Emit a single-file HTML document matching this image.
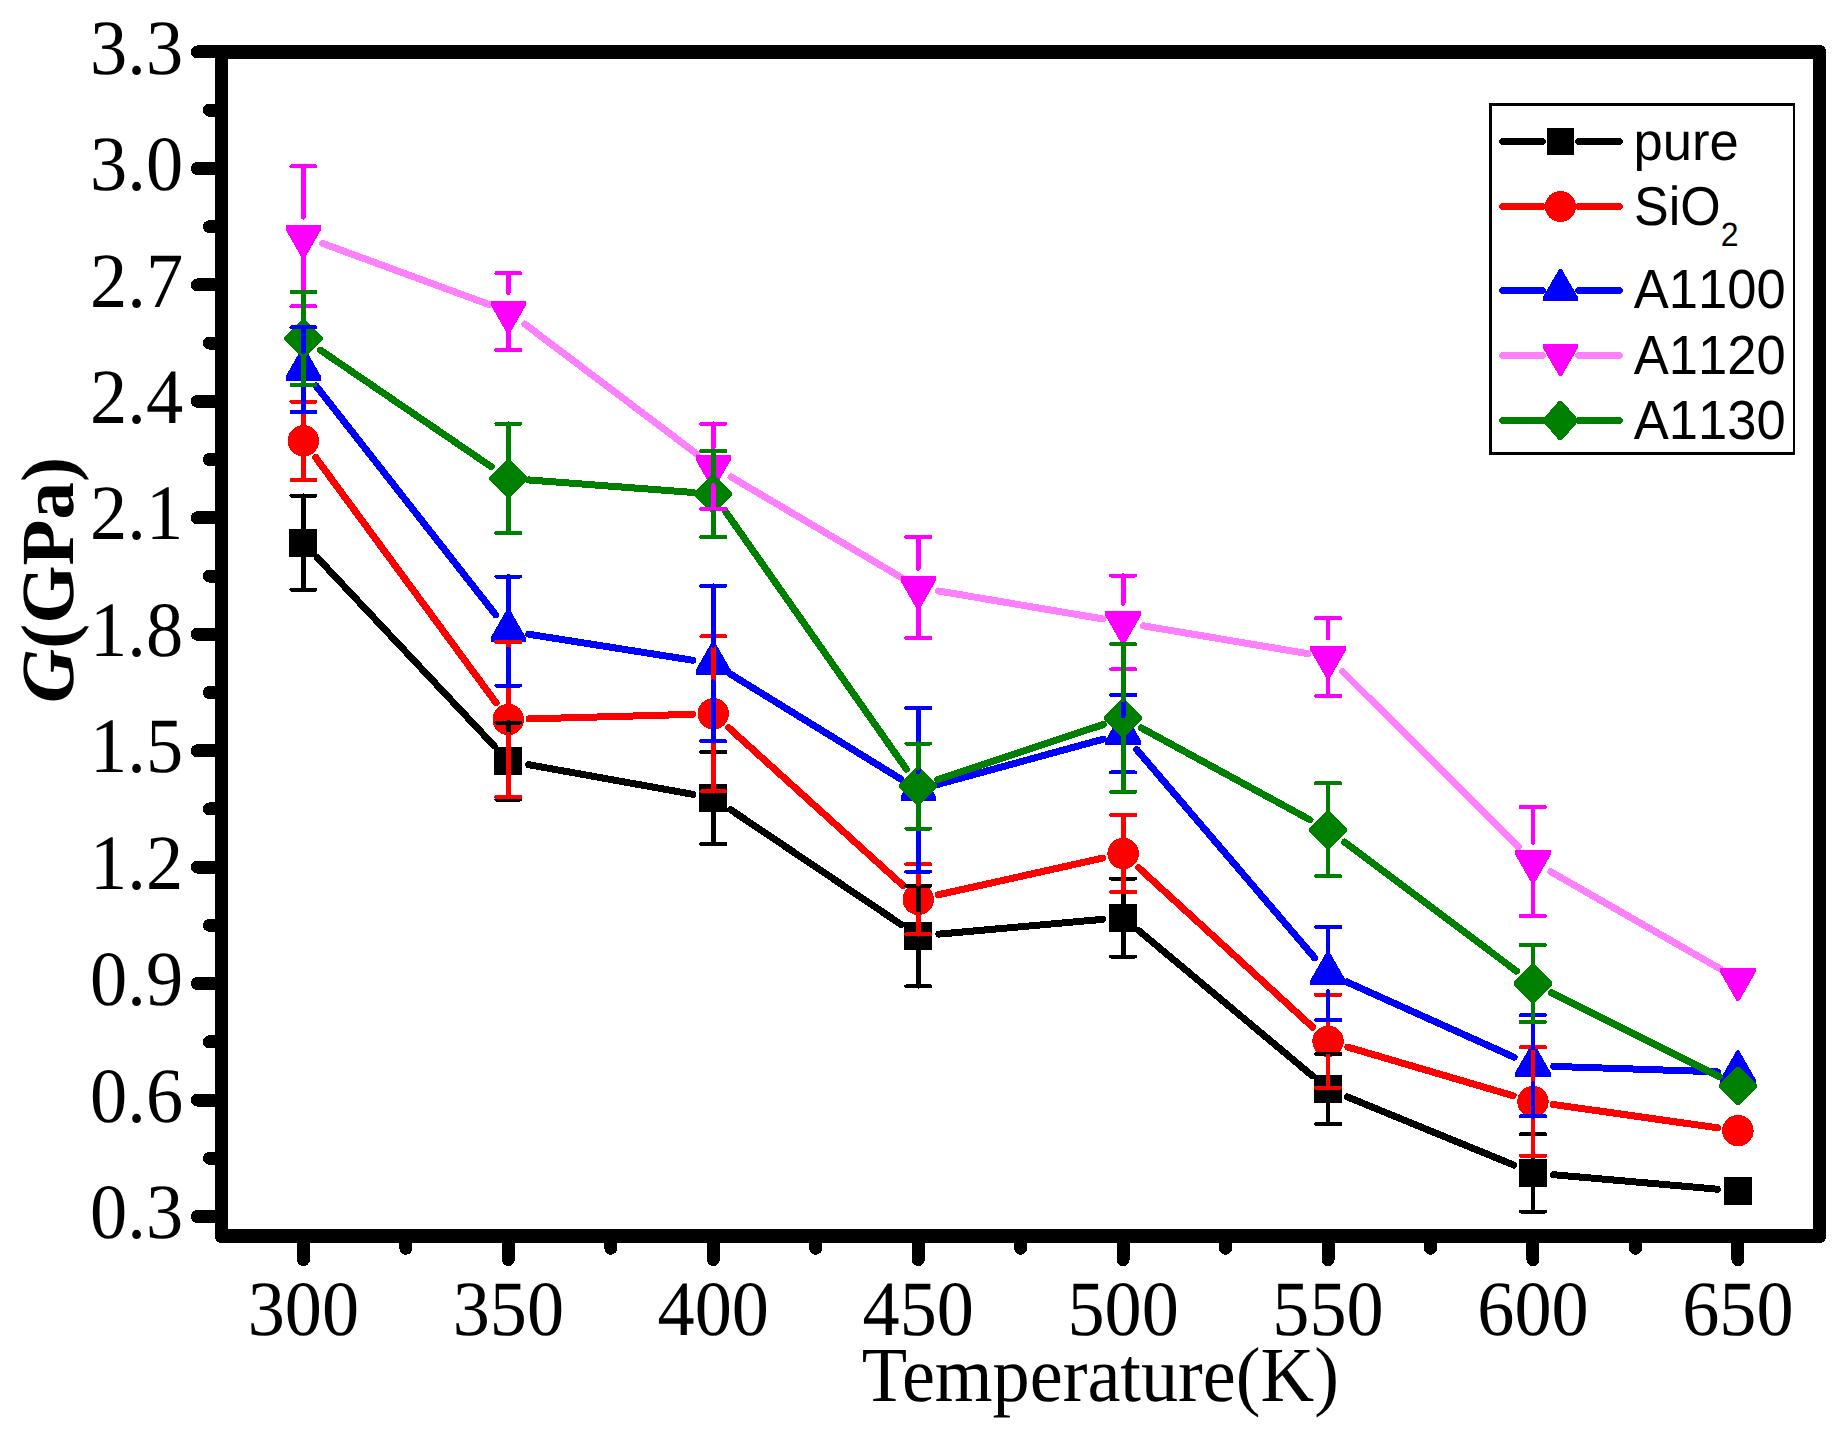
<!DOCTYPE html>
<html lang="en"><head><meta charset="utf-8"><title>G(GPa) vs Temperature(K)</title>
<style>html,body{margin:0;padding:0;background:#fff;}body{width:1840px;height:1434px;overflow:hidden;}svg{display:block;}</style>
</head><body>
<svg width="1840" height="1434" viewBox="0 0 1840 1434" shape-rendering="crispEdges" text-rendering="geometricPrecision">
<rect width="1840" height="1434" fill="#ffffff"/>
<g stroke="#000000" stroke-width="7.0" stroke-linecap="round" fill="none">
<line x1="317.57" y1="557.89" x2="494.16" y2="745.91"/>
<line x1="528.70" y1="764.68" x2="692.89" y2="794.32"/>
<line x1="730.43" y1="809.56" x2="901.02" y2="924.44"/>
<line x1="938.81" y1="934.14" x2="1102.50" y2="919.36"/>
<line x1="1138.99" y1="930.78" x2="1312.18" y2="1075.72"/>
<line x1="1347.21" y1="1096.84" x2="1513.82" y2="1165.06"/>
<line x1="1553.60" y1="1174.72" x2="1717.29" y2="1189.18"/>
</g>
<g>
<rect x="289.40" y="528.80" width="28" height="28" fill="#000000"/>
<rect x="494.33" y="747.00" width="28" height="28" fill="#000000"/>
<rect x="699.26" y="784.00" width="28" height="28" fill="#000000"/>
<rect x="904.19" y="922.00" width="28" height="28" fill="#000000"/>
<rect x="1109.12" y="903.50" width="28" height="28" fill="#000000"/>
<rect x="1314.05" y="1075.00" width="28" height="28" fill="#000000"/>
<rect x="1518.98" y="1158.90" width="28" height="28" fill="#000000"/>
<rect x="1723.91" y="1177.00" width="28" height="28" fill="#000000"/>
</g>
<g stroke="#ff0000" stroke-width="7.0" stroke-linecap="round" fill="none">
<line x1="315.66" y1="457.48" x2="496.07" y2="702.82"/>
<line x1="529.02" y1="718.92" x2="692.57" y2="714.33"/>
<line x1="728.60" y1="727.64" x2="902.85" y2="885.41"/>
<line x1="938.39" y1="894.79" x2="1102.92" y2="858.01"/>
<line x1="1138.38" y1="867.48" x2="1312.79" y2="1027.27"/>
<line x1="1347.91" y1="1047.10" x2="1513.12" y2="1095.75"/>
<line x1="1553.47" y1="1104.51" x2="1717.42" y2="1127.79"/>
</g>
<g>
<circle cx="303.40" cy="440.80" r="15.7" fill="#ff0000"/>
<circle cx="508.33" cy="719.50" r="15.7" fill="#ff0000"/>
<circle cx="713.26" cy="713.75" r="15.7" fill="#ff0000"/>
<circle cx="918.19" cy="899.30" r="15.7" fill="#ff0000"/>
<circle cx="1123.12" cy="853.50" r="15.7" fill="#ff0000"/>
<circle cx="1328.05" cy="1041.25" r="15.7" fill="#ff0000"/>
<circle cx="1532.98" cy="1101.60" r="15.7" fill="#ff0000"/>
<circle cx="1737.91" cy="1130.70" r="15.7" fill="#ff0000"/>
</g>
<g stroke="#0000ff" stroke-width="7.0" stroke-linecap="round" fill="none">
<line x1="316.17" y1="385.99" x2="495.56" y2="614.71"/>
<line x1="528.77" y1="634.24" x2="692.82" y2="660.26"/>
<line x1="730.88" y1="674.36" x2="900.57" y2="778.94"/>
<line x1="938.16" y1="784.33" x2="1103.15" y2="739.17"/>
<line x1="1136.57" y1="749.44" x2="1314.60" y2="957.76"/>
<line x1="1346.93" y1="981.99" x2="1514.10" y2="1057.21"/>
<line x1="1553.67" y1="1066.39" x2="1717.22" y2="1071.81"/>
</g>
<g>
<polygon points="302.20,347.55 304.60,347.55 321.05,376.30 321.05,380.80 285.75,380.80 285.75,376.30" fill="#0000ff"/>
<polygon points="507.13,608.85 509.53,608.85 525.98,637.60 525.98,642.10 490.68,642.10 490.68,637.60" fill="#0000ff"/>
<polygon points="712.06,641.35 714.46,641.35 730.91,670.10 730.91,674.60 695.61,674.60 695.61,670.10" fill="#0000ff"/>
<polygon points="916.99,767.65 919.39,767.65 935.84,796.40 935.84,800.90 900.54,800.90 900.54,796.40" fill="#0000ff"/>
<polygon points="1121.92,711.55 1124.32,711.55 1140.77,740.30 1140.77,744.80 1105.47,744.80 1105.47,740.30" fill="#0000ff"/>
<polygon points="1326.85,951.35 1329.25,951.35 1345.70,980.10 1345.70,984.60 1310.40,984.60 1310.40,980.10" fill="#0000ff"/>
<polygon points="1531.78,1043.55 1534.18,1043.55 1550.63,1072.30 1550.63,1076.80 1515.33,1076.80 1515.33,1072.30" fill="#0000ff"/>
<polygon points="1736.71,1050.35 1739.11,1050.35 1755.56,1079.10 1755.56,1083.60 1720.26,1083.60 1720.26,1079.10" fill="#0000ff"/>
</g>
<g stroke="#ff80ff" stroke-width="7.0" stroke-linecap="round" fill="none">
<line x1="322.83" y1="243.44" x2="488.90" y2="304.46"/>
<line x1="524.85" y1="324.08" x2="696.74" y2="453.92"/>
<line x1="731.08" y1="476.93" x2="900.37" y2="576.97"/>
<line x1="938.60" y1="590.98" x2="1102.71" y2="618.92"/>
<line x1="1143.53" y1="625.86" x2="1307.64" y2="653.64"/>
<line x1="1342.71" y1="671.72" x2="1518.32" y2="846.88"/>
<line x1="1550.94" y1="871.80" x2="1719.95" y2="968.70"/>
</g>
<g>
<polygon points="302.20,258.45 304.60,258.45 321.05,229.70 321.05,225.20 285.75,225.20 285.75,229.70" fill="#ff00ff"/>
<polygon points="507.13,333.75 509.53,333.75 525.98,305.00 525.98,300.50 490.68,300.50 490.68,305.00" fill="#ff00ff"/>
<polygon points="712.06,488.55 714.46,488.55 730.91,459.80 730.91,455.30 695.61,455.30 695.61,459.80" fill="#ff00ff"/>
<polygon points="916.99,609.65 919.39,609.65 935.84,580.90 935.84,576.40 900.54,576.40 900.54,580.90" fill="#ff00ff"/>
<polygon points="1121.92,644.55 1124.32,644.55 1140.77,615.80 1140.77,611.30 1105.47,611.30 1105.47,615.80" fill="#ff00ff"/>
<polygon points="1326.85,679.25 1329.25,679.25 1345.70,650.50 1345.70,646.00 1310.40,646.00 1310.40,650.50" fill="#ff00ff"/>
<polygon points="1531.78,883.65 1534.18,883.65 1550.63,854.90 1550.63,850.40 1515.33,850.40 1515.33,854.90" fill="#ff00ff"/>
<polygon points="1736.71,1001.15 1739.11,1001.15 1755.56,972.40 1755.56,967.90 1720.26,967.90 1720.26,972.40" fill="#ff00ff"/>
</g>
<g stroke="#008000" stroke-width="7.0" stroke-linecap="round" fill="none">
<line x1="320.50" y1="350.17" x2="491.23" y2="466.73"/>
<line x1="528.97" y1="479.97" x2="692.62" y2="492.43"/>
<line x1="725.15" y1="510.94" x2="906.30" y2="769.06"/>
<line x1="937.84" y1="779.48" x2="1103.47" y2="724.52"/>
<line x1="1141.30" y1="727.91" x2="1309.87" y2="819.79"/>
<line x1="1344.61" y1="842.13" x2="1516.42" y2="971.07"/>
<line x1="1551.50" y1="992.75" x2="1719.39" y2="1076.55"/>
</g>
<g>
<polygon points="301.90,319.40 304.90,319.40 322.50,337.00 322.50,340.00 304.90,357.60 301.90,357.60 284.30,340.00 284.30,337.00" fill="#008000"/>
<polygon points="506.83,459.30 509.83,459.30 527.43,476.90 527.43,479.90 509.83,497.50 506.83,497.50 489.23,479.90 489.23,476.90" fill="#008000"/>
<polygon points="711.76,474.90 714.76,474.90 732.36,492.50 732.36,495.50 714.76,513.10 711.76,513.10 694.16,495.50 694.16,492.50" fill="#008000"/>
<polygon points="916.69,766.90 919.69,766.90 937.29,784.50 937.29,787.50 919.69,805.10 916.69,805.10 899.09,787.50 899.09,784.50" fill="#008000"/>
<polygon points="1121.62,698.90 1124.62,698.90 1142.22,716.50 1142.22,719.50 1124.62,737.10 1121.62,737.10 1104.02,719.50 1104.02,716.50" fill="#008000"/>
<polygon points="1326.55,810.60 1329.55,810.60 1347.15,828.20 1347.15,831.20 1329.55,848.80 1326.55,848.80 1308.95,831.20 1308.95,828.20" fill="#008000"/>
<polygon points="1531.48,964.40 1534.48,964.40 1552.08,982.00 1552.08,985.00 1534.48,1002.60 1531.48,1002.60 1513.88,985.00 1513.88,982.00" fill="#008000"/>
<polygon points="1736.41,1066.70 1739.41,1066.70 1757.01,1084.30 1757.01,1087.30 1739.41,1104.90 1736.41,1104.90 1718.81,1087.30 1718.81,1084.30" fill="#008000"/>
</g>
<g stroke="#000000" stroke-width="4.8" stroke-linecap="round" fill="none">
<line x1="303.40" y1="495.80" x2="303.40" y2="529.80"/>
<line x1="303.40" y1="555.80" x2="303.40" y2="589.80"/>
<line x1="291.40" y1="495.80" x2="315.40" y2="495.80" stroke-width="4"/>
<line x1="291.40" y1="589.80" x2="315.40" y2="589.80" stroke-width="4"/>
<line x1="508.33" y1="722.50" x2="508.33" y2="748.00"/>
<line x1="508.33" y1="774.00" x2="508.33" y2="799.50"/>
<line x1="496.33" y1="722.50" x2="520.33" y2="722.50" stroke-width="4"/>
<line x1="496.33" y1="799.50" x2="520.33" y2="799.50" stroke-width="4"/>
<line x1="713.26" y1="752.00" x2="713.26" y2="785.00"/>
<line x1="713.26" y1="811.00" x2="713.26" y2="844.00"/>
<line x1="701.26" y1="752.00" x2="725.26" y2="752.00" stroke-width="4"/>
<line x1="701.26" y1="844.00" x2="725.26" y2="844.00" stroke-width="4"/>
<line x1="918.19" y1="885.70" x2="918.19" y2="923.00"/>
<line x1="918.19" y1="949.00" x2="918.19" y2="986.30"/>
<line x1="906.19" y1="885.70" x2="930.19" y2="885.70" stroke-width="4"/>
<line x1="906.19" y1="986.30" x2="930.19" y2="986.30" stroke-width="4"/>
<line x1="1123.12" y1="878.50" x2="1123.12" y2="904.50"/>
<line x1="1123.12" y1="930.50" x2="1123.12" y2="956.50"/>
<line x1="1111.12" y1="878.50" x2="1135.12" y2="878.50" stroke-width="4"/>
<line x1="1111.12" y1="956.50" x2="1135.12" y2="956.50" stroke-width="4"/>
<line x1="1328.05" y1="1054.00" x2="1328.05" y2="1076.00"/>
<line x1="1328.05" y1="1102.00" x2="1328.05" y2="1124.00"/>
<line x1="1316.05" y1="1054.00" x2="1340.05" y2="1054.00" stroke-width="4"/>
<line x1="1316.05" y1="1124.00" x2="1340.05" y2="1124.00" stroke-width="4"/>
<line x1="1532.98" y1="1134.20" x2="1532.98" y2="1159.90"/>
<line x1="1532.98" y1="1185.90" x2="1532.98" y2="1211.60"/>
<line x1="1520.98" y1="1134.20" x2="1544.98" y2="1134.20" stroke-width="4"/>
<line x1="1520.98" y1="1211.60" x2="1544.98" y2="1211.60" stroke-width="4"/>
</g>
<g stroke="#ff0000" stroke-width="4.8" stroke-linecap="round" fill="none">
<line x1="303.40" y1="401.60" x2="303.40" y2="425.80"/>
<line x1="303.40" y1="455.80" x2="303.40" y2="480.00"/>
<line x1="291.40" y1="401.60" x2="315.40" y2="401.60" stroke-width="4"/>
<line x1="291.40" y1="480.00" x2="315.40" y2="480.00" stroke-width="4"/>
<line x1="508.33" y1="642.00" x2="508.33" y2="704.50"/>
<line x1="508.33" y1="734.50" x2="508.33" y2="797.00"/>
<line x1="496.33" y1="642.00" x2="520.33" y2="642.00" stroke-width="4"/>
<line x1="496.33" y1="797.00" x2="520.33" y2="797.00" stroke-width="4"/>
<line x1="713.26" y1="636.25" x2="713.26" y2="698.75"/>
<line x1="713.26" y1="728.75" x2="713.26" y2="791.25"/>
<line x1="701.26" y1="636.25" x2="725.26" y2="636.25" stroke-width="4"/>
<line x1="701.26" y1="791.25" x2="725.26" y2="791.25" stroke-width="4"/>
<line x1="918.19" y1="864.30" x2="918.19" y2="884.30"/>
<line x1="918.19" y1="914.30" x2="918.19" y2="934.30"/>
<line x1="906.19" y1="864.30" x2="930.19" y2="864.30" stroke-width="4"/>
<line x1="906.19" y1="934.30" x2="930.19" y2="934.30" stroke-width="4"/>
<line x1="1123.12" y1="815.00" x2="1123.12" y2="838.50"/>
<line x1="1123.12" y1="868.50" x2="1123.12" y2="892.00"/>
<line x1="1111.12" y1="815.00" x2="1135.12" y2="815.00" stroke-width="4"/>
<line x1="1111.12" y1="892.00" x2="1135.12" y2="892.00" stroke-width="4"/>
<line x1="1328.05" y1="994.75" x2="1328.05" y2="1026.25"/>
<line x1="1328.05" y1="1056.25" x2="1328.05" y2="1087.75"/>
<line x1="1316.05" y1="994.75" x2="1340.05" y2="994.75" stroke-width="4"/>
<line x1="1316.05" y1="1087.75" x2="1340.05" y2="1087.75" stroke-width="4"/>
<line x1="1532.98" y1="1047.30" x2="1532.98" y2="1086.60"/>
<line x1="1532.98" y1="1116.60" x2="1532.98" y2="1155.90"/>
<line x1="1520.98" y1="1047.30" x2="1544.98" y2="1047.30" stroke-width="4"/>
<line x1="1520.98" y1="1155.90" x2="1544.98" y2="1155.90" stroke-width="4"/>
</g>
<g stroke="#0000ff" stroke-width="4.8" stroke-linecap="round" fill="none">
<line x1="303.40" y1="327.40" x2="303.40" y2="351.70"/>
<line x1="303.40" y1="387.70" x2="303.40" y2="412.00"/>
<line x1="291.40" y1="327.40" x2="315.40" y2="327.40" stroke-width="4"/>
<line x1="291.40" y1="412.00" x2="315.40" y2="412.00" stroke-width="4"/>
<line x1="508.33" y1="576.50" x2="508.33" y2="613.00"/>
<line x1="508.33" y1="649.00" x2="508.33" y2="685.50"/>
<line x1="496.33" y1="576.50" x2="520.33" y2="576.50" stroke-width="4"/>
<line x1="496.33" y1="685.50" x2="520.33" y2="685.50" stroke-width="4"/>
<line x1="713.26" y1="585.80" x2="713.26" y2="645.50"/>
<line x1="713.26" y1="681.50" x2="713.26" y2="741.20"/>
<line x1="701.26" y1="585.80" x2="725.26" y2="585.80" stroke-width="4"/>
<line x1="701.26" y1="741.20" x2="725.26" y2="741.20" stroke-width="4"/>
<line x1="918.19" y1="708.00" x2="918.19" y2="771.80"/>
<line x1="918.19" y1="807.80" x2="918.19" y2="871.60"/>
<line x1="906.19" y1="708.00" x2="930.19" y2="708.00" stroke-width="4"/>
<line x1="906.19" y1="871.60" x2="930.19" y2="871.60" stroke-width="4"/>
<line x1="1123.12" y1="695.00" x2="1123.12" y2="715.70"/>
<line x1="1123.12" y1="751.70" x2="1123.12" y2="772.40"/>
<line x1="1111.12" y1="695.00" x2="1135.12" y2="695.00" stroke-width="4"/>
<line x1="1111.12" y1="772.40" x2="1135.12" y2="772.40" stroke-width="4"/>
<line x1="1328.05" y1="927.00" x2="1328.05" y2="955.50"/>
<line x1="1328.05" y1="991.50" x2="1328.05" y2="1020.00"/>
<line x1="1316.05" y1="927.00" x2="1340.05" y2="927.00" stroke-width="4"/>
<line x1="1316.05" y1="1020.00" x2="1340.05" y2="1020.00" stroke-width="4"/>
<line x1="1532.98" y1="1015.10" x2="1532.98" y2="1047.70"/>
<line x1="1532.98" y1="1083.70" x2="1532.98" y2="1116.30"/>
<line x1="1520.98" y1="1015.10" x2="1544.98" y2="1015.10" stroke-width="4"/>
<line x1="1520.98" y1="1116.30" x2="1544.98" y2="1116.30" stroke-width="4"/>
</g>
<g stroke="#ff00ff" stroke-width="4.8" stroke-linecap="round" fill="none">
<line x1="303.40" y1="166.30" x2="303.40" y2="217.30"/>
<line x1="303.40" y1="255.30" x2="303.40" y2="306.30"/>
<line x1="291.40" y1="166.30" x2="315.40" y2="166.30" stroke-width="4"/>
<line x1="291.40" y1="306.30" x2="315.40" y2="306.30" stroke-width="4"/>
<line x1="508.33" y1="273.20" x2="508.33" y2="292.60"/>
<line x1="508.33" y1="330.60" x2="508.33" y2="350.00"/>
<line x1="496.33" y1="273.20" x2="520.33" y2="273.20" stroke-width="4"/>
<line x1="496.33" y1="350.00" x2="520.33" y2="350.00" stroke-width="4"/>
<line x1="713.26" y1="423.80" x2="713.26" y2="447.40"/>
<line x1="713.26" y1="485.40" x2="713.26" y2="509.00"/>
<line x1="701.26" y1="423.80" x2="725.26" y2="423.80" stroke-width="4"/>
<line x1="701.26" y1="509.00" x2="725.26" y2="509.00" stroke-width="4"/>
<line x1="918.19" y1="537.00" x2="918.19" y2="568.50"/>
<line x1="918.19" y1="606.50" x2="918.19" y2="638.00"/>
<line x1="906.19" y1="537.00" x2="930.19" y2="537.00" stroke-width="4"/>
<line x1="906.19" y1="638.00" x2="930.19" y2="638.00" stroke-width="4"/>
<line x1="1123.12" y1="575.50" x2="1123.12" y2="603.40"/>
<line x1="1123.12" y1="641.40" x2="1123.12" y2="669.30"/>
<line x1="1111.12" y1="575.50" x2="1135.12" y2="575.50" stroke-width="4"/>
<line x1="1111.12" y1="669.30" x2="1135.12" y2="669.30" stroke-width="4"/>
<line x1="1328.05" y1="618.20" x2="1328.05" y2="638.10"/>
<line x1="1328.05" y1="676.10" x2="1328.05" y2="696.00"/>
<line x1="1316.05" y1="618.20" x2="1340.05" y2="618.20" stroke-width="4"/>
<line x1="1316.05" y1="696.00" x2="1340.05" y2="696.00" stroke-width="4"/>
<line x1="1532.98" y1="807.00" x2="1532.98" y2="842.50"/>
<line x1="1532.98" y1="880.50" x2="1532.98" y2="916.00"/>
<line x1="1520.98" y1="807.00" x2="1544.98" y2="807.00" stroke-width="4"/>
<line x1="1520.98" y1="916.00" x2="1544.98" y2="916.00" stroke-width="4"/>
</g>
<g stroke="#008000" stroke-width="4.8" stroke-linecap="round" fill="none">
<line x1="303.40" y1="292.00" x2="303.40" y2="320.50"/>
<line x1="303.40" y1="356.50" x2="303.40" y2="385.00"/>
<line x1="291.40" y1="292.00" x2="315.40" y2="292.00" stroke-width="4"/>
<line x1="291.40" y1="385.00" x2="315.40" y2="385.00" stroke-width="4"/>
<line x1="508.33" y1="423.80" x2="508.33" y2="460.40"/>
<line x1="508.33" y1="496.40" x2="508.33" y2="533.00"/>
<line x1="496.33" y1="423.80" x2="520.33" y2="423.80" stroke-width="4"/>
<line x1="496.33" y1="533.00" x2="520.33" y2="533.00" stroke-width="4"/>
<line x1="713.26" y1="451.00" x2="713.26" y2="476.00"/>
<line x1="713.26" y1="512.00" x2="713.26" y2="537.00"/>
<line x1="701.26" y1="451.00" x2="725.26" y2="451.00" stroke-width="4"/>
<line x1="701.26" y1="537.00" x2="725.26" y2="537.00" stroke-width="4"/>
<line x1="918.19" y1="743.50" x2="918.19" y2="768.00"/>
<line x1="918.19" y1="804.00" x2="918.19" y2="828.50"/>
<line x1="906.19" y1="743.50" x2="930.19" y2="743.50" stroke-width="4"/>
<line x1="906.19" y1="828.50" x2="930.19" y2="828.50" stroke-width="4"/>
<line x1="1123.12" y1="644.20" x2="1123.12" y2="700.00"/>
<line x1="1123.12" y1="736.00" x2="1123.12" y2="791.80"/>
<line x1="1111.12" y1="644.20" x2="1135.12" y2="644.20" stroke-width="4"/>
<line x1="1111.12" y1="791.80" x2="1135.12" y2="791.80" stroke-width="4"/>
<line x1="1328.05" y1="783.30" x2="1328.05" y2="811.70"/>
<line x1="1328.05" y1="847.70" x2="1328.05" y2="876.10"/>
<line x1="1316.05" y1="783.30" x2="1340.05" y2="783.30" stroke-width="4"/>
<line x1="1316.05" y1="876.10" x2="1340.05" y2="876.10" stroke-width="4"/>
<line x1="1532.98" y1="945.00" x2="1532.98" y2="965.50"/>
<line x1="1532.98" y1="1001.50" x2="1532.98" y2="1022.00"/>
<line x1="1520.98" y1="945.00" x2="1544.98" y2="945.00" stroke-width="4"/>
<line x1="1520.98" y1="1022.00" x2="1544.98" y2="1022.00" stroke-width="4"/>
</g>
<g stroke="#000" stroke-width="13" stroke-linecap="round" fill="none">
<line x1="221.5" y1="52" x2="221.5" y2="1236"/>
<line x1="1819.5" y1="52" x2="1819.5" y2="1236"/>
<line x1="221.5" y1="52" x2="1819.5" y2="52" stroke-width="14"/>
<line x1="221.5" y1="1236" x2="1819.5" y2="1236" stroke-width="14"/>
<line x1="197.3" y1="1216.50" x2="221.5" y2="1216.50"/>
<line x1="209.4" y1="1158.27" x2="221.5" y2="1158.27"/>
<line x1="197.3" y1="1100.05" x2="221.5" y2="1100.05"/>
<line x1="209.4" y1="1041.82" x2="221.5" y2="1041.82"/>
<line x1="197.3" y1="983.60" x2="221.5" y2="983.60"/>
<line x1="209.4" y1="925.37" x2="221.5" y2="925.37"/>
<line x1="197.3" y1="867.15" x2="221.5" y2="867.15"/>
<line x1="209.4" y1="808.92" x2="221.5" y2="808.92"/>
<line x1="197.3" y1="750.70" x2="221.5" y2="750.70"/>
<line x1="209.4" y1="692.47" x2="221.5" y2="692.47"/>
<line x1="197.3" y1="634.25" x2="221.5" y2="634.25"/>
<line x1="209.4" y1="576.02" x2="221.5" y2="576.02"/>
<line x1="197.3" y1="517.79" x2="221.5" y2="517.79"/>
<line x1="209.4" y1="459.57" x2="221.5" y2="459.57"/>
<line x1="197.3" y1="401.34" x2="221.5" y2="401.34"/>
<line x1="209.4" y1="343.12" x2="221.5" y2="343.12"/>
<line x1="197.3" y1="284.89" x2="221.5" y2="284.89"/>
<line x1="209.4" y1="226.67" x2="221.5" y2="226.67"/>
<line x1="197.3" y1="168.44" x2="221.5" y2="168.44"/>
<line x1="209.4" y1="110.22" x2="221.5" y2="110.22"/>
<line x1="197.3" y1="51.99" x2="221.5" y2="51.99"/>
<line x1="303.40" y1="1236" x2="303.40" y2="1259.6"/>
<line x1="405.87" y1="1236" x2="405.87" y2="1248.3"/>
<line x1="508.33" y1="1236" x2="508.33" y2="1259.6"/>
<line x1="610.79" y1="1236" x2="610.79" y2="1248.3"/>
<line x1="713.26" y1="1236" x2="713.26" y2="1259.6"/>
<line x1="815.73" y1="1236" x2="815.73" y2="1248.3"/>
<line x1="918.19" y1="1236" x2="918.19" y2="1259.6"/>
<line x1="1020.65" y1="1236" x2="1020.65" y2="1248.3"/>
<line x1="1123.12" y1="1236" x2="1123.12" y2="1259.6"/>
<line x1="1225.58" y1="1236" x2="1225.58" y2="1248.3"/>
<line x1="1328.05" y1="1236" x2="1328.05" y2="1259.6"/>
<line x1="1430.52" y1="1236" x2="1430.52" y2="1248.3"/>
<line x1="1532.98" y1="1236" x2="1532.98" y2="1259.6"/>
<line x1="1635.44" y1="1236" x2="1635.44" y2="1248.3"/>
<line x1="1737.91" y1="1236" x2="1737.91" y2="1259.6"/>
</g>
<g font-family="'Liberation Serif', 'Times New Roman', serif" font-size="75" fill="#000">
<text transform="translate(183.1,1238.20) scale(0.992,1.045)" text-anchor="end">0.3</text>
<text transform="translate(183.1,1121.75) scale(0.992,1.045)" text-anchor="end">0.6</text>
<text transform="translate(183.1,1005.30) scale(0.992,1.045)" text-anchor="end">0.9</text>
<text transform="translate(183.1,888.85) scale(0.992,1.045)" text-anchor="end">1.2</text>
<text transform="translate(183.1,772.40) scale(0.992,1.045)" text-anchor="end">1.5</text>
<text transform="translate(183.1,655.95) scale(0.992,1.045)" text-anchor="end">1.8</text>
<text transform="translate(183.1,539.49) scale(0.992,1.045)" text-anchor="end">2.1</text>
<text transform="translate(183.1,423.04) scale(0.992,1.045)" text-anchor="end">2.4</text>
<text transform="translate(183.1,306.59) scale(0.992,1.045)" text-anchor="end">2.7</text>
<text transform="translate(183.1,190.14) scale(0.992,1.045)" text-anchor="end">3.0</text>
<text transform="translate(183.1,73.69) scale(0.992,1.045)" text-anchor="end">3.3</text>
<text transform="translate(303.40,1335.2) scale(0.99,1.045)" text-anchor="middle">300</text>
<text transform="translate(508.33,1335.2) scale(0.99,1.045)" text-anchor="middle">350</text>
<text transform="translate(713.26,1335.2) scale(0.99,1.045)" text-anchor="middle">400</text>
<text transform="translate(918.19,1335.2) scale(0.99,1.045)" text-anchor="middle">450</text>
<text transform="translate(1123.12,1335.2) scale(0.99,1.045)" text-anchor="middle">500</text>
<text transform="translate(1328.05,1335.2) scale(0.99,1.045)" text-anchor="middle">550</text>
<text transform="translate(1532.98,1335.2) scale(0.99,1.045)" text-anchor="middle">600</text>
<text transform="translate(1737.91,1335.2) scale(0.99,1.045)" text-anchor="middle">650</text>
<text transform="translate(1100.3,1401.2) scale(0.99,1.04)" text-anchor="middle">Temperature(K)</text>
<text transform="translate(72.5,580) rotate(-90)" text-anchor="middle" font-weight="bold"><tspan font-style="italic">G</tspan>(GPa)</text>
</g>
<rect x="1489" y="103" width="306" height="352" fill="#000"/><rect x="1492" y="106" width="301" height="346" fill="#fff"/>
<g stroke="#000000" stroke-width="7.0" stroke-linecap="round"><line x1="1502.6" y1="141.5" x2="1542.2" y2="141.5"/><line x1="1578.8000000000002" y1="141.5" x2="1619.2" y2="141.5"/></g>
<rect x="1546.90" y="128.00" width="27" height="27" fill="#000000"/>
<text transform="translate(1633.5,160) scale(1.012,1.03)" font-family="'Liberation Sans', Arial, sans-serif" font-size="52" fill="#000" style="font-kerning:none">pure</text>
<g stroke="#ff0000" stroke-width="7.0" stroke-linecap="round"><line x1="1502.6" y1="206.5" x2="1542.2" y2="206.5"/><line x1="1578.8000000000002" y1="206.5" x2="1619.2" y2="206.5"/></g>
<circle cx="1560.40" cy="206.50" r="15.5" fill="#ff0000"/>
<text transform="translate(1634,225) scale(1.0,1.055)" font-family="'Liberation Sans', Arial, sans-serif" font-size="52" fill="#000" style="font-kerning:none">SiO<tspan font-size="32" dy="20">2</tspan></text>
<g stroke="#0000ff" stroke-width="7.0" stroke-linecap="round"><line x1="1502.6" y1="290.5" x2="1542.2" y2="290.5"/><line x1="1578.8000000000002" y1="290.5" x2="1619.2" y2="290.5"/></g>
<polygon points="1559.20,268.90 1561.60,268.90 1578.05,297.20 1578.05,301.00 1542.75,301.00 1542.75,297.20" fill="#0000ff"/>
<text transform="translate(1633.8,308.0) scale(1.01,1.06)" font-family="'Liberation Sans', Arial, sans-serif" font-size="52" fill="#000" style="font-kerning:none">A1100</text>
<g stroke="#ff80ff" stroke-width="7.0" stroke-linecap="round"><line x1="1502.6" y1="355.5" x2="1542.2" y2="355.5"/><line x1="1578.8000000000002" y1="355.5" x2="1619.2" y2="355.5"/></g>
<polygon points="1559.20,376.10 1561.60,376.10 1578.05,347.70 1578.05,343.90 1542.75,343.90 1542.75,347.70" fill="#ff00ff"/>
<text transform="translate(1633.8,373.5) scale(1.01,1.06)" font-family="'Liberation Sans', Arial, sans-serif" font-size="52" fill="#000" style="font-kerning:none">A1120</text>
<g stroke="#008000" stroke-width="7.0" stroke-linecap="round"><line x1="1502.6" y1="420.5" x2="1542.2" y2="420.5"/><line x1="1578.8000000000002" y1="420.5" x2="1619.2" y2="420.5"/></g>
<polygon points="1558.90,400.90 1561.90,400.90 1577.70,419.00 1577.70,422.00 1561.90,440.10 1558.90,440.10 1543.10,422.00 1543.10,419.00" fill="#008000"/>
<text transform="translate(1633.8,439.25) scale(1.01,1.06)" font-family="'Liberation Sans', Arial, sans-serif" font-size="52" fill="#000" style="font-kerning:none">A1130</text>
</svg>
</body></html>
